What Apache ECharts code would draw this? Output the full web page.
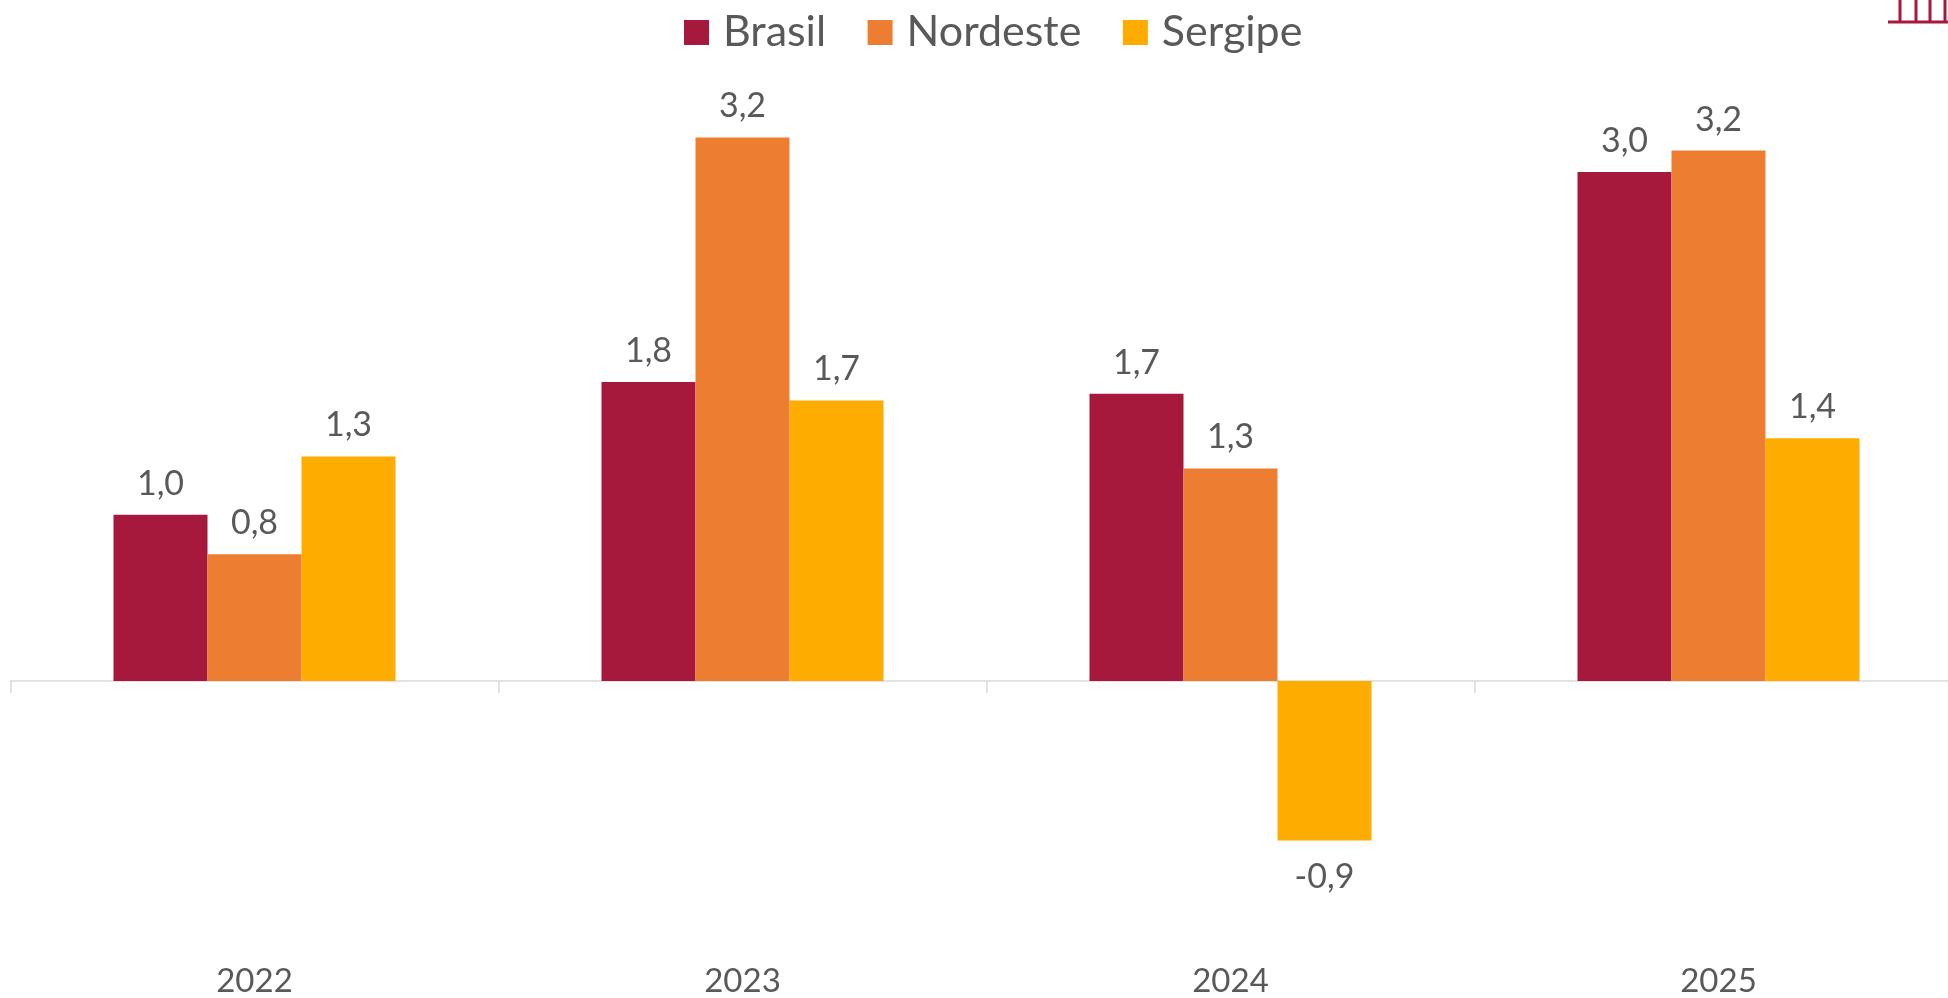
<!DOCTYPE html>
<html><head><meta charset="utf-8">
<style>html,body{margin:0;padding:0;background:#fff;overflow:hidden}#c{width:1948px;height:998px}</style>
<script src="https://cdn.jsdelivr.net/npm/echarts@6/dist/echarts.min.js"></script>
</head><body><div id="c"></div>
<script>
const categories = ['2022','2023','2024','2025'];
const brasil   = [0.99, 1.78, 1.71, 3.03];
const nordeste = [0.754, 3.235, 1.265, 3.157];
const sergipe  = [1.337, 1.67, -0.949, 1.445];
const seriesNames = ['Brasil','Nordeste','Sergipe'];
const colors = ['#A6193C','#ED7D31','#FFAC00'];
const textColor = '#595959';
const font = 'Lato, "Open Sans", sans-serif';
const chart = echarts.init(document.getElementById('c'), null, {renderer:'canvas'});
const mk = (i, data) => ({
  name: seriesNames[i], type:'bar', barWidth:94, barGap:0,
  data: data.map(v => v < 0 ? {value:v, label:{distance:20}} : v),
  itemStyle:{color:colors[i]}, silent:true,
  label:{show:true, position:'outside', distance:14, color:textColor, fontFamily:font, fontSize:34,
    formatter:p=>p.value.toFixed(1).replace('.',',')}
});
chart.setOption({
  animation:false, backgroundColor:'#fff',
  legend:{top:6, left:679, icon:'rect', itemWidth:25, itemHeight:25, itemGap:41.5,
    data:seriesNames, selectedMode:false,
    textStyle:{color:textColor, fontFamily:font, fontSize:43, padding:[0,0,0,9]}},
  grid:{left:10.5, width:1952, top:93, height:840, containLabel:false, outerBoundsMode:'none'},
  xAxis:[{type:'category', data:categories,
    axisLine:{onZero:true, lineStyle:{color:'#D9D9D9', width:1.5}},
    axisTick:{show:true, length:12, alignWithLabel:false, lineStyle:{color:'#D9D9D9', width:1.5}},
    axisLabel:{show:false},
    splitLine:{show:false}},
   {type:'category', data:categories, position:'bottom', offset:0,
    axisLine:{show:false, onZero:false}, axisTick:{show:false}, splitLine:{show:false},
    axisLabel:{show:true, interval:0, margin:32, hideOverlap:false, color:textColor, fontFamily:font, fontSize:33}}],
  yAxis:{type:'value', min:-1.5, max:3.5, show:false, splitLine:{show:false}},
  series:[mk(0,brasil), mk(1,nordeste), mk(2,sergipe)],
  graphic:[
    {type:'line', silent:true, shape:{x1:1888,y1:22,x2:1948,y2:22}, style:{stroke:'#A6193C',lineWidth:3}},
    {type:'line', silent:true, shape:{x1:1900,y1:0,x2:1900,y2:22}, style:{stroke:'#A6193C',lineWidth:3}},
    {type:'line', silent:true, shape:{x1:1916,y1:0,x2:1916,y2:22}, style:{stroke:'#A6193C',lineWidth:3}},
    {type:'line', silent:true, shape:{x1:1930,y1:0,x2:1930,y2:22}, style:{stroke:'#A6193C',lineWidth:3}},
    {type:'line', silent:true, shape:{x1:1945,y1:0,x2:1945,y2:22}, style:{stroke:'#A6193C',lineWidth:3}}
  ]
});
</script></body></html>
